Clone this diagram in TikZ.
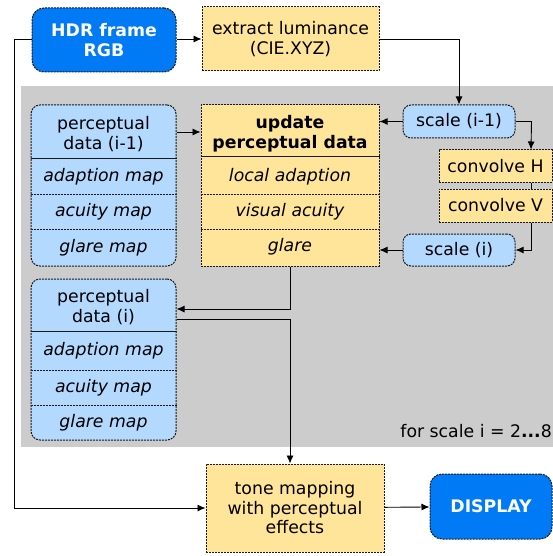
\documentclass[tikz,border=0pt]{standalone}
\usepackage{fontspec}
\setmainfont{DejaVu Sans}
\usetikzlibrary{arrows.meta,positioning}
\definecolor{dblue}{RGB}{0,122,245}
\definecolor{lblue}{RGB}{179,217,255}
\definecolor{lyellow}{RGB}{255,229,153}
\definecolor{bggray}{RGB}{204,204,204}
\newcommand\boxfont{\fontsize{17.3}{19.5}\selectfont}
\tikzset{
  box/.style={draw=black!90, dash pattern=on 2pt off 1pt, line width=1pt,
    align=center, inner sep=0pt, font=\boxfont},
  ybox/.style={box, fill=lyellow},
  bbox/.style={box, fill=lblue, rounded corners=9pt},
  dbox/.style={box, fill=dblue, rounded corners=12pt, text=white,
    font=\boxfont\bfseries},
  txt/.style={align=center, inner sep=0pt, font=\boxfont},
  row/.style={txt, font=\boxfont\itshape},
  sep/.style={line width=1pt, draw=black!90, dash pattern=on 2pt off 1pt},
  hsep/.style={line width=1pt, draw=black!90},
  arr/.style={-{Latex[length=8pt,width=7pt]}, line width=0.9pt},
}
\begin{document}
\begin{tikzpicture}[x=1pt,y=-1pt]
\useasboundingbox (0,0) rectangle (553,556);
% loop area
\fill[bggray] (21,86) rectangle (553,447);
\node[txt, anchor=base east] (loop) at (552,437) {for scale i = 2\textbf{...}8};

% input
\node[dbox, minimum width=144pt, minimum height=64pt] (hdr) at (104,40) {HDR frame\\RGB};
\node[ybox, minimum width=177pt, minimum height=64pt] (lum) at (290.5,39) {extract luminance\\(CIE.XYZ)};

% perceptual data (i-1)
\node[bbox, minimum width=145pt, minimum height=161pt] (pdprev) at (103.5,185.5) {};
\node[txt] (pdprevh) at (103.5,134) {perceptual\\data (i-1)};
\draw[hsep] (pdprev.west |- 0,159) -- (pdprev.east |- 0,159);
\foreach \y in {194,229}
  \draw[sep] (pdprev.west |- 0,\y) -- (pdprev.east |- 0,\y);
\foreach \t/\y [count=\i] in {adaption map/177, acuity map/212, glare map/248}
  \node[row] (pdprev-\i) at (103.5,\y) {\t};

% update perceptual data
\node[ybox, minimum width=178pt, minimum height=161pt] (upd) at (290,185.5) {};
\node[txt, font=\boxfont\bfseries] (updh) at (290,133.5) {update\\perceptual data};
\draw[hsep] (upd.west |- 0,157) -- (upd.east |- 0,157);
\foreach \y in {194,229}
  \draw[sep] (upd.west |- 0,\y) -- (upd.east |- 0,\y);
\foreach \t/\y [count=\i] in {local adaption/177, visual acuity/212, glare/246.5}
  \node[row] (upd-\i) at (290,\y) {\t};

% scales
\node[bbox, rounded corners=8pt, minimum width=112pt, minimum height=33pt] (sprev) at (459,121.5) {scale (i-1)};
\node[ybox, minimum width=113pt, minimum height=32pt] (convh) at (495.5,166) {convolve H};
\node[ybox, minimum width=113pt, minimum height=33pt] (convv) at (495.5,205.5) {convolve V};
\node[bbox, rounded corners=8pt, minimum width=112pt, minimum height=32pt] (scur) at (459,250) {scale (i)};

% perceptual data (i)
\node[bbox, minimum width=145pt, minimum height=161pt] (pdcur) at (103.5,359.5) {};
\node[txt] (pdcurh) at (103.5,307) {perceptual\\data (i)};
\draw[hsep] (pdcur.west |- 0,331) -- (pdcur.east |- 0,331);
\foreach \y in {370,405}
  \draw[sep] (pdcur.west |- 0,\y) -- (pdcur.east |- 0,\y);
\foreach \t/\y [count=\i] in {adaption map/351, acuity map/388, glare map/423}
  \node[row] (pdcur-\i) at (103.5,\y) {\t};

% output
\node[ybox, minimum width=178pt, minimum height=88pt] (tone) at (295,508) {tone mapping\\with perceptual\\effects};
\node[dbox, minimum width=122pt, minimum height=65pt] (disp) at (491,506.5) {DISPLAY};

% connectors
\draw[arr] (hdr.east |- lum) -- (lum);
\draw[arr] (lum.east) -| (sprev.north);
\draw[arr] (hdr.west |- lum) -- ++(-17,0) |- (tone.west);
\draw[arr] (pdprev.east |- 0,132) -- (upd.west |- 0,132);
\draw[arr] (sprev) -- (upd.east |- sprev);
\draw[arr] (sprev.east) -- ++(16,0) -- (convh.north -| 531,0);
\draw[line width=0.9pt] (convh.south -| 531,0) -- (convv.north -| 531,0);
\draw[arr] (convv.south -| 531,0) |- (scur.east);
\draw[arr] (scur) -- (upd.east |- scur);
\draw[arr] (upd.south -| 290,0) |- (pdcur.east |- 0,309);
\draw[arr] (pdcur.east |- 0,319) -| (tone.north -| 290,0);
\draw[arr] (tone) -- (disp);
\end{tikzpicture}
\end{document}
